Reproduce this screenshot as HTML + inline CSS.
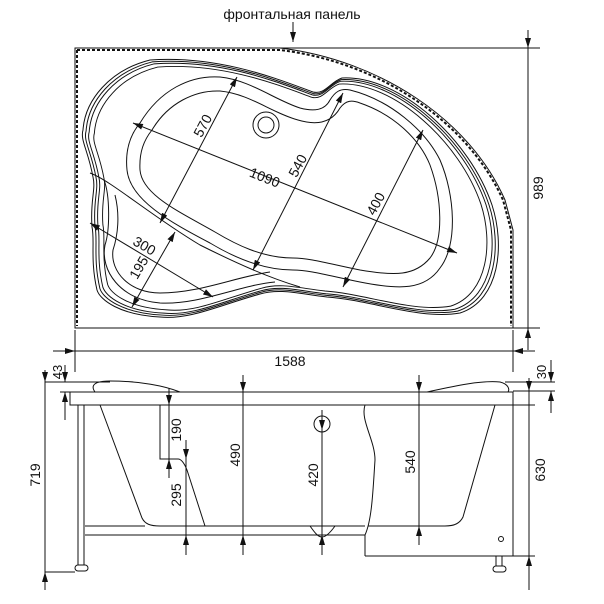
<!DOCTYPE html><html><head><meta charset="utf-8"><style>body{margin:0;background:#fff}svg{display:block}text{font-family:"Liberation Sans",sans-serif;fill:#111}</style></head><body>
<svg width="604" height="604" viewBox="0 0 604 604" xmlns="http://www.w3.org/2000/svg" fill="none" stroke="#111" stroke-width="1">
<defs><marker id="a" viewBox="0 0 10 6" refX="10" refY="3" markerWidth="10" markerHeight="6" orient="auto-start-reverse"><path d="M0,0L10,3L0,6z" fill="#111" stroke="none"/></marker></defs>
<text x="292" y="19" font-size="14" text-anchor="middle" stroke="none">фронтальная панель</text>
<line x1="293" y1="22" x2="293" y2="42" marker-end="url(#a)"/>
<path d="M75,48 H280 C380,60 470,120 505,200 L513,230 V328 H75 Z"/>
<path d="M77,50 H280 C380,62 468,122 503,200 L511,230 V326" stroke-dasharray="3,2" stroke-width="2"/>
<line x1="77" y1="50" x2="77" y2="326" stroke-dasharray="3,2" stroke-width="2"/>
<line x1="280" y1="48" x2="540" y2="48"/><line x1="513" y1="328" x2="540" y2="328"/>
<line x1="528" y1="30" x2="528" y2="48" marker-end="url(#a)"/><line x1="528" y1="48" x2="528" y2="328"/><line x1="528" y1="350" x2="528" y2="328" marker-end="url(#a)"/>
<text transform="translate(543,188) rotate(-90)" font-size="14" text-anchor="middle" stroke="none">989</text>
<g id="k">
<path d="M150,60 C220,55 280,80 313,92 C325,95 330,82 342,78 C400,75 470,140 492,205 C505,245 500,300 460,313 C420,320 370,300 327,297 C300,294 280,288 260,294 C220,305 190,320 160,317 C120,315 100,300 97,290 C90,260 95,240 92,227 C90,200 96,190 93,177 C88,150 80,140 83,130 C85,100 110,70 150,60 Z"/>
</g>
<use href="#k" transform="translate(290,188) scale(0.985) translate(-290,-188)"/>
<use href="#k" transform="translate(290,188) scale(0.97) translate(-290,-188)"/>
<use href="#k" transform="translate(290,188) scale(0.945) translate(-290,-188)"/>
<path d="M140,123 C160,90 190,75 220,77 C250,80 275,100 300,108 C315,112 325,110 330,100 C335,92 340,88 350,90 C390,100 425,130 440,160 C455,195 458,245 440,268 C425,290 400,290 360,282 C330,276 310,270 293,270 C260,270 230,255 210,243 C170,222 130,200 127,170 C125,150 130,135 140,123 Z"/>
<path d="M152,130 C168,103 195,90 220,91 C250,94 270,112 298,120 C318,126 332,122 340,108 C346,100 352,100 360,103 C395,115 420,140 430,165 C442,198 444,240 430,258 C415,276 395,276 360,270 C330,264 310,258 293,258 C262,258 235,244 215,232 C180,212 142,195 140,170 C139,152 144,140 152,130 Z"/>
<path d="M90,173 C110,180 150,215 200,245 C240,265 270,278 300,287"/>
<path d="M104,180 C110,195 110,230 105,245 C100,270 120,300 160,303 C200,305 240,285 275,282"/>
<path d="M115,195 C120,215 118,235 113,250 C110,272 130,293 160,293 C200,293 235,277 270,272"/>
<line x1="133" y1="123" x2="457" y2="253" marker-start="url(#a)" marker-end="url(#a)"/>
<line x1="237" y1="77" x2="160" y2="223" marker-start="url(#a)" marker-end="url(#a)"/>
<line x1="343" y1="93" x2="253" y2="270" marker-start="url(#a)" marker-end="url(#a)"/>
<line x1="423" y1="130" x2="343" y2="287" marker-start="url(#a)" marker-end="url(#a)"/>
<line x1="90" y1="223" x2="213" y2="297" marker-start="url(#a)" marker-end="url(#a)"/>
<line x1="175" y1="232" x2="132" y2="307" marker-start="url(#a)" marker-end="url(#a)"/>
<g font-size="14" stroke="none" fill="#111">
<text transform="translate(263,182) rotate(22)" text-anchor="middle">1090</text>
<text transform="translate(207,128) rotate(-62)" text-anchor="middle">570</text>
<text transform="translate(302,168) rotate(-62)" text-anchor="middle">540</text>
<text transform="translate(380,206) rotate(-62)" text-anchor="middle">400</text>
<text transform="translate(142,250) rotate(30)" text-anchor="middle">300</text>
<text transform="translate(143,270) rotate(-60)" text-anchor="middle">195</text>
</g>
<circle cx="266" cy="125" r="13"/><circle cx="266" cy="125" r="8"/>
<line x1="53" y1="351" x2="75" y2="351" marker-end="url(#a)"/><line x1="75" y1="351" x2="513" y2="351"/><line x1="535" y1="351" x2="513" y2="351" marker-end="url(#a)"/>
<line x1="75" y1="330" x2="75" y2="372"/><line x1="513" y1="330" x2="513" y2="372"/>
<text x="290" y="366" font-size="14" text-anchor="middle" stroke="none">1588</text>
<rect x="70" y="392" width="443" height="13"/>
<path d="M95,392 C90,385 95,381 110,381 C140,381 165,386 180,392"/>
<path d="M427,392 C450,387 480,380 500,382 C508,384 510,389 508,392"/>
<line x1="513" y1="405" x2="513" y2="556"/><line x1="365" y1="556" x2="513" y2="556"/>
<path d="M365,405 C360,420 375,440 375,460 C373,490 372,520 365,535 L365,556"/>
<path d="M100,405 L142,518 C145,524 150,526 160,526 L365,526"/>
<path d="M495,405 L463,517 C460,523 455,526 445,526 L368,526"/>
<path d="M160,405 V459 H178 C182,459 185,465 187,470 L205,526"/>
<line x1="85" y1="535" x2="365" y2="535"/><line x1="85" y1="526" x2="145" y2="526"/>
<path d="M310,526 C315,533 318,537 322,537 C326,537 330,533 335,526"/>
<rect x="78" y="405" width="6" height="160"/><rect x="75" y="565" width="13" height="6" rx="3"/>
<rect x="496" y="556" width="6" height="10"/><rect x="493" y="566" width="13" height="6" rx="3"/>
<circle cx="501" cy="539" r="2.5"/>
<line x1="45" y1="382" x2="110" y2="382"/><line x1="45" y1="572" x2="75" y2="572"/>
<line x1="45" y1="370" x2="45" y2="382" marker-end="url(#a)"/><line x1="45" y1="382" x2="45" y2="572"/><line x1="45" y1="590" x2="45" y2="572" marker-end="url(#a)"/>
<text transform="translate(40,475) rotate(-90)" font-size="14" text-anchor="middle" stroke="none">719</text>
<line x1="65" y1="365" x2="65" y2="382" marker-end="url(#a)"/><line x1="65" y1="420" x2="65" y2="392" marker-end="url(#a)"/><line x1="60" y1="392" x2="70" y2="392"/>
<text transform="translate(62,372) rotate(-90)" font-size="13" text-anchor="middle" stroke="none">43</text>
<line x1="505" y1="382" x2="555" y2="382"/><line x1="513" y1="391" x2="555" y2="391"/><line x1="513" y1="405" x2="535" y2="405"/><line x1="513" y1="556" x2="535" y2="556"/>
<line x1="551" y1="360" x2="551" y2="382" marker-end="url(#a)"/><line x1="551" y1="413" x2="551" y2="391" marker-end="url(#a)"/>
<text transform="translate(546,372) rotate(-90)" font-size="13" text-anchor="middle" stroke="none">30</text>
<line x1="529" y1="378" x2="529" y2="391" marker-end="url(#a)"/><line x1="529" y1="391" x2="529" y2="556"/><line x1="529" y1="590" x2="529" y2="556" marker-end="url(#a)"/>
<text transform="translate(545,470) rotate(-90)" font-size="14" text-anchor="middle" stroke="none">630</text>
<line x1="243" y1="375" x2="243" y2="392" marker-end="url(#a)"/><line x1="243" y1="392" x2="243" y2="535"/><line x1="243" y1="555" x2="243" y2="535" marker-end="url(#a)"/>
<text transform="translate(240,455) rotate(-90)" font-size="14" text-anchor="middle" stroke="none">490</text>
<line x1="322" y1="410" x2="322" y2="430" marker-end="url(#a)"/><line x1="322" y1="430" x2="322" y2="535"/><line x1="322" y1="555" x2="322" y2="535" marker-end="url(#a)"/>
<circle cx="322" cy="424" r="8"/>
<text transform="translate(318,475) rotate(-90)" font-size="14" text-anchor="middle" stroke="none">420</text>
<line x1="419" y1="375" x2="419" y2="392" marker-end="url(#a)"/><line x1="419" y1="392" x2="419" y2="526"/><line x1="419" y1="545" x2="419" y2="526" marker-end="url(#a)"/>
<text transform="translate(415,462) rotate(-90)" font-size="14" text-anchor="middle" stroke="none">540</text>
<line x1="169" y1="388" x2="169" y2="405" marker-end="url(#a)"/><line x1="169" y1="478" x2="169" y2="459" marker-end="url(#a)"/><line x1="169" y1="405" x2="169" y2="459"/>
<text transform="translate(181,430) rotate(-90)" font-size="14" text-anchor="middle" stroke="none">190</text>
<line x1="186" y1="440" x2="186" y2="459" marker-end="url(#a)"/><line x1="186" y1="459" x2="186" y2="535"/><line x1="186" y1="555" x2="186" y2="535" marker-end="url(#a)"/>
<text transform="translate(181,495) rotate(-90)" font-size="14" text-anchor="middle" stroke="none">295</text>
</svg></body></html>
